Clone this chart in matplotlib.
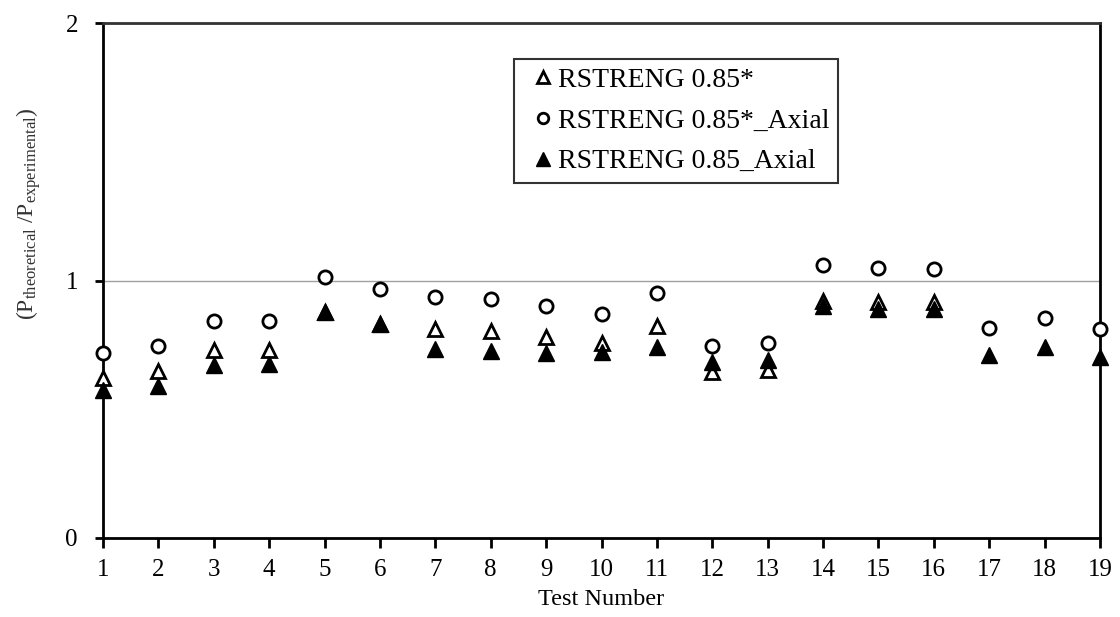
import numpy as np
import matplotlib
matplotlib.use("Agg")
import matplotlib.pyplot as plt

plt.rcParams['font.family'] = ['Liberation Serif', 'DejaVu Serif']
plt.rcParams['mathtext.fontset'] = 'custom'
plt.rcParams['mathtext.rm'] = 'Liberation Serif'
plt.rcParams['mathtext.it'] = 'Liberation Serif:italic'

test_number = list(range(1, 20))
rstreng_085_star = [0.62, 0.647, 0.73, 0.73, 0.878, 0.833, 0.811, 0.805, 0.779, 0.756,
                    0.824, 0.643, 0.654, 0.92, 0.915, 0.915, np.nan, np.nan, np.nan]
rstreng_085_star_axial = [0.72, 0.747, 0.841, 0.843, 1.015, 0.966, 0.936, 0.93, 0.901, 0.869,
                          0.95, 0.747, 0.757, 1.06, 1.047, 1.043, 0.817, 0.856, 0.811]
rstreng_085_axial = [0.573, 0.592, 0.672, 0.676, 0.878, 0.833, 0.734, 0.725, 0.717, 0.721,
                     0.74, 0.682, 0.691, 0.90, 0.89, 0.89, 0.712, 0.743, 0.704]
labels = ['RSTRENG 0.85*', 'RSTRENG 0.85*_Axial', 'RSTRENG 0.85_Axial']

fig = plt.figure(figsize=(11.2, 6.17), dpi=100)
ax = fig.add_axes([103/1120, 1 - 538/617, (1100-103)/1120, (538-23)/617])

ax.plot(test_number, rstreng_085_star, linestyle='none', marker='^', markersize=10.5,
        markerfacecolor='white', markeredgecolor='black', markeredgewidth=2,
        label=labels[0], clip_on=False, zorder=3)
ax.plot(test_number, rstreng_085_star_axial, linestyle='none', marker='o', markersize=9.5,
        markerfacecolor='white', markeredgecolor='black', markeredgewidth=2,
        label=labels[1], clip_on=False, zorder=3)
ax.plot(test_number, rstreng_085_axial, linestyle='none', marker='^', markersize=12,
        markerfacecolor='black', markeredgecolor='black', markeredgewidth=1,
        label=labels[2], clip_on=False, zorder=4)

ax.set_xlim(1, 19)
ax.set_ylim(0, 2)
ax.set_xticks(test_number)
ax.set_yticks([0, 1, 2])
ax.tick_params(axis='both', labelsize=18, direction='out', width=2, color='black')
ax.tick_params(axis='x', length=7, pad=8)
ax.tick_params(axis='y', length=6, pad=12)
ax.yaxis.grid(True, color='#a0a0a0', linewidth=1)
ax.set_axisbelow(True)
for s in ax.spines.values():
    s.set_linewidth(2)
    s.set_color('black')
ax.spines['top'].set_color('#333333')

ax.set_xlabel('Test Number', fontsize=17.5, labelpad=6)
ax.set_ylabel(r'$(\mathrm{P_{theoretical}}\ /\mathrm{P_{experimental}})$', fontsize=17, color='#333333')
ax.yaxis.set_label_coords(-0.06, 0.63)

leg = ax.legend(loc='upper left', bbox_to_anchor=(0.412, 0.930), borderaxespad=0,
                fontsize=20, frameon=True, fancybox=False, edgecolor='black',
                handlelength=1.5, handletextpad=-0.2, markerscale=0.8,
                labelspacing=0.55, borderpad=0.3)
leg.get_frame().set_linewidth(1.5)

fig.savefig('out.png', dpi=100, facecolor='white')
